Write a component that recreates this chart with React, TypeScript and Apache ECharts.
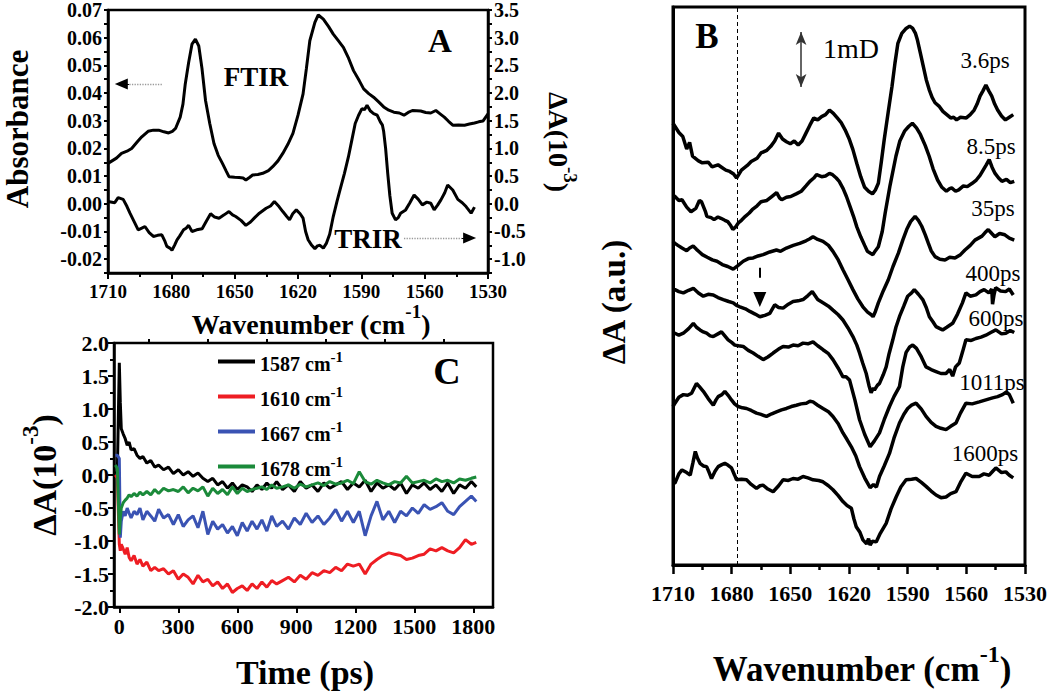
import React, { useEffect, useRef } from 'react';
import * as echarts from 'echarts';

const FONT = "'Liberation Serif', 'Times New Roman', Times, serif";

// ---------------- Panel A: FTIR (left axis, absorbance) and TRIR (right axis, 10^-3) ----------------
const A_FTIR: [number, number][] = [
  [1710, 0.0146], [1706, 0.0165], [1703.6, 0.0182], [1701, 0.019], [1698.8, 0.02], [1696, 0.0225], [1694, 0.0242],
  [1691, 0.0262], [1688.5, 0.0266], [1686, 0.0266], [1683.5, 0.026], [1681.3, 0.0256], [1679.5, 0.0262], [1678, 0.0272],
  [1675.8, 0.0313], [1674.5, 0.036], [1673.4, 0.0433], [1671.8, 0.051], [1670.2, 0.0577], [1668.6, 0.0595], [1667, 0.057],
  [1665.5, 0.049], [1663.8, 0.0373], [1661.8, 0.029], [1659.8, 0.0218], [1657.8, 0.0175], [1655.8, 0.0146], [1654, 0.0118],
  [1652.7, 0.0098], [1650, 0.0096], [1647.9, 0.0095], [1646, 0.0093], [1644.7, 0.0086], [1643, 0.0095], [1641.5, 0.0104],
  [1639, 0.0106], [1636.7, 0.011], [1634, 0.012], [1632, 0.0134], [1629.5, 0.0155], [1627.2, 0.0182], [1624.8, 0.0215],
  [1622.4, 0.0254], [1620, 0.032], [1617.6, 0.0397], [1616, 0.049], [1614.4, 0.0589], [1612, 0.0655], [1610.4, 0.0682],
  [1608, 0.0667], [1605.5, 0.064], [1603.3, 0.0613], [1601, 0.059], [1598.5, 0.0565], [1596, 0.0525], [1593.7, 0.0481],
  [1591, 0.0445], [1588.9, 0.0415], [1586.5, 0.0398], [1584.2, 0.0385], [1581.8, 0.0368], [1579.4, 0.035], [1577, 0.0338],
  [1574.6, 0.0331], [1572, 0.0328], [1569.8, 0.032], [1567.8, 0.033], [1565.8, 0.0337], [1563.8, 0.0336], [1561.9, 0.0335],
  [1559.5, 0.033], [1557.1, 0.0328], [1554.7, 0.0337], [1552.7, 0.0325], [1550.7, 0.0313], [1548.7, 0.0298], [1546.7, 0.0284],
  [1544, 0.0285], [1541.1, 0.0284], [1538.8, 0.0288], [1536.4, 0.0292], [1534.4, 0.0296], [1532.4, 0.0299], [1530, 0.0325],
];

const A_TRIR: [number, number][] = [
  [1710, 0.04], [1706.8, 0.02], [1705.2, 0.11], [1702.8, 0.08], [1701, -0.05], [1699.6, -0.17], [1697.5, -0.33], [1695.7, -0.47],
  [1694, -0.44], [1692.5, -0.41], [1690.5, -0.52], [1688.5, -0.59], [1686.5, -0.57], [1684.5, -0.56], [1683, -0.68], [1682.1, -0.77],
  [1680.7, -0.8], [1679.7, -0.84], [1678.5, -0.75], [1677.3, -0.65], [1676, -0.58], [1674.2, -0.47], [1673, -0.44], [1671.8, -0.39],
  [1670.2, -0.5], [1668, -0.47], [1665.4, -0.45], [1663.5, -0.32], [1661.4, -0.18], [1659.5, -0.24], [1657.4, -0.26], [1655, -0.2],
  [1652.7, -0.14], [1651, -0.2], [1649.5, -0.23], [1647, -0.3], [1644.7, -0.39], [1642.5, -0.33], [1640.5, -0.25], [1638.3, -0.17],
  [1635.1, -0.08], [1633, -0.04], [1631.2, 0.04], [1629, -0.05], [1627.2, -0.14], [1625.5, -0.22], [1624, -0.29], [1622.5, -0.18],
  [1620.8, -0.11], [1619, -0.18], [1617.6, -0.26], [1616.4, -0.5], [1615.2, -0.65], [1613.5, -0.75], [1612, -0.81], [1610.8, -0.76],
  [1609.6, -0.75], [1608, -0.8], [1606.5, -0.71], [1605, -0.55], [1603.3, -0.23], [1601.5, 0.05], [1600.1, 0.25], [1598, 0.55],
  [1596.1, 0.85], [1594.5, 1.15], [1592.9, 1.45], [1591.3, 1.6], [1589.7, 1.72], [1588.5, 1.7], [1587.3, 1.78], [1585.8, 1.68],
  [1584.2, 1.63], [1582.5, 1.6], [1581, 1.48], [1580, 1.42], [1579.4, 1.3], [1578.5, 1.0], [1577.5, 0.55], [1576.5, 0.15],
  [1575.4, -0.17], [1573.8, -0.29], [1572.5, -0.25], [1571.4, -0.17], [1569, -0.11], [1567, 0.02], [1565, 0.16], [1563, 0.08],
  [1561.1, -0.02], [1559, 0.03], [1557.1, 0.01], [1555.5, -0.11], [1553.8, -0.02], [1552.3, 0.07], [1550.5, 0.2], [1549.1, 0.34],
  [1546.7, 0.25], [1544.3, 0.08], [1542.2, 0.02], [1540.4, -0.05], [1538, -0.17], [1536.4, -0.06],
];

const A_LEFT_LABELS = [-0.02, -0.01, 0, 0.01, 0.02, 0.03, 0.04, 0.05, 0.06, 0.07];
const A_RIGHT_LABELS = [-1, -0.5, 0, 0.5, 1, 1.5, 2, 2.5, 3, 3.5];
// annotation arrows (wavenumber, value)
const A_FTIR_ARROW = { from: 1684.5, to: 1706.8, headFrom: 1700, headTo: 1703.7, y: 0.0433 };
const A_TRIR_ARROW = { from: 1569.8, to: 1535.6, headFrom: 1542.5, headTo: 1538.7, y: -0.616 };

// ---------------- Panel C: kinetics ----------------
const C_TIME = [
  -20, -10, 0, 5, 10, 20, 30, 40, 50, 60, 75, 90, 105, 120, 140, 160, 180, 200, 225, 250, 275, 300, 325, 350, 375,
  400, 425, 450, 475, 500, 525, 550, 575, 600, 625, 650, 675, 700, 725, 750, 775, 800, 830, 860, 890, 920, 950, 980,
  1010, 1040, 1070, 1100, 1130, 1160, 1190, 1220, 1250, 1280, 1310, 1340, 1370, 1400, 1430, 1460, 1490, 1520, 1550,
  1580, 1610, 1640, 1670, 1700, 1730, 1760, 1790, 1815,
];
const C_1587 = [
  0.02, 0.05, 1.7, 1.1, 0.7, 0.62, 0.55, 0.45, 0.5, 0.38, 0.4, 0.3, 0.25, 0.28, 0.18, 0.22, 0.12, 0.15, 0.08, 0.12,
  0.02, 0.08, 0.0, 0.05, -0.02, 0.03, -0.05, -0.1, -0.05, -0.15, -0.1, -0.2, -0.12, -0.22, -0.15, -0.18, -0.25, -0.15,
  -0.22, -0.12, -0.2, -0.1, -0.22, -0.15, -0.25, -0.1, -0.2, -0.15, -0.25, -0.12, -0.2, -0.15, -0.1, -0.22, -0.12,
  -0.18, -0.08, -0.25, -0.12, -0.2, -0.15, -0.22, -0.12, -0.28, -0.15, -0.2, -0.12, -0.22, -0.15, -0.25, -0.12, -0.28,
  -0.15, -0.2, -0.1, -0.18,
];
const C_1610 = [
  0.0, -0.05, -1.05, -1.15, -1.05, -1.12, -1.2, -1.1, -1.25, -1.3, -1.22, -1.35, -1.28, -1.38, -1.32, -1.45, -1.4,
  -1.45, -1.42, -1.5, -1.45, -1.58, -1.5, -1.55, -1.65, -1.52, -1.62, -1.58, -1.68, -1.62, -1.72, -1.65, -1.78, -1.72,
  -1.68, -1.75, -1.65, -1.72, -1.62, -1.7, -1.6, -1.65, -1.6, -1.55, -1.62, -1.52, -1.58, -1.48, -1.52, -1.45, -1.48,
  -1.4, -1.45, -1.35, -1.38, -1.35, -1.5, -1.35, -1.28, -1.22, -1.18, -1.2, -1.22, -1.28, -1.26, -1.22, -1.2, -1.12,
  -1.15, -1.1, -1.15, -1.18, -1.1, -0.98, -1.05, -1.02,
];
const C_1667 = [
  0.3, 0.3, 0.25, -0.95, -0.7, -0.55, -0.62, -0.5, -0.58, -0.65, -0.55, -0.6, -0.5, -0.68, -0.55, -0.62, -0.7, -0.52,
  -0.65, -0.6, -0.75, -0.6, -0.78, -0.68, -0.62, -0.8, -0.55, -0.9, -0.7, -0.82, -0.75, -0.88, -0.78, -0.92, -0.72,
  -0.85, -0.7, -0.82, -0.68, -0.85, -0.62, -0.78, -0.7, -0.82, -0.65, -0.75, -0.58, -0.72, -0.62, -0.75, -0.65, -0.52,
  -0.7, -0.55, -0.72, -0.55, -0.92, -0.62, -0.4, -0.68, -0.55, -0.72, -0.55, -0.62, -0.5, -0.58, -0.45, -0.52, -0.48,
  -0.42, -0.55, -0.6, -0.48, -0.4, -0.32, -0.4,
];
const C_1678 = [
  0.15, 0.1, -0.9, -0.65, -0.5, -0.42, -0.38, -0.35, -0.3, -0.33, -0.28, -0.32, -0.26, -0.3, -0.25, -0.3, -0.22, -0.28,
  -0.2, -0.24, -0.22, -0.25, -0.18, -0.27, -0.2, -0.24, -0.18, -0.32, -0.2, -0.28, -0.22, -0.3, -0.18, -0.28, -0.2,
  -0.25, -0.22, -0.2, -0.18, -0.22, -0.15, -0.2, -0.18, -0.15, -0.2, -0.14, -0.18, -0.15, -0.12, -0.16, -0.1, -0.14,
  -0.12, -0.08, -0.13, 0.05, -0.1, -0.14, -0.08, -0.12, -0.15, -0.1, -0.12, -0.02, -0.12, -0.1, -0.08, -0.12, -0.06,
  -0.1, -0.08, -0.12, -0.06, -0.08, -0.05, -0.03,
];
const C_NAMES = ['1587', '1610', '1667', '1678'];
const C_VALUES = [C_1587, C_1610, C_1667, C_1678];
const C_COLORS = ['#000000', '#ee1d23', '#3a53b3', '#1b8a3a'];
const C_X_LABELS = [0, 300, 600, 900, 1200, 1500, 1800];
const C_X_MINOR = [150, 450, 750, 1050, 1350, 1650];

// ---------------- Panel B: time-resolved spectra (mD, stacked) ----------------
const B_3_6PS: [number, number][] = [
  [1710, 6.69], [1707, 6.55], [1705, 6.49], [1703, 6.3], [1701.5, 6.4], [1700, 6.19], [1697, 6.12], [1695, 6.09], [1692, 6.1],
  [1690, 6.03], [1687, 6.06], [1685, 6.02], [1683, 5.98], [1681, 5.96], [1679, 5.92], [1677.5, 5.86], [1675, 5.98], [1672, 6.05],
  [1670, 6.11], [1667, 6.16], [1665, 6.24], [1662, 6.28], [1660, 6.34], [1658, 6.42], [1656, 6.54], [1654, 6.45], [1652, 6.41],
  [1650, 6.38], [1648, 6.42], [1646, 6.36], [1644, 6.42], [1642, 6.54], [1640, 6.66], [1638, 6.77], [1636, 6.74], [1634, 6.79],
  [1632, 6.82], [1630, 6.89], [1628, 6.84], [1626, 6.77], [1624, 6.7], [1622, 6.59], [1620, 6.46], [1618, 6.29], [1616, 6.08],
  [1614, 5.88], [1612, 5.72], [1610, 5.66], [1608, 5.62], [1606.5, 5.68], [1605, 5.78], [1603.5, 6.1], [1602, 6.44], [1600, 6.85],
  [1598, 7.25], [1596.5, 7.6], [1595, 7.9], [1593, 8.05], [1591, 8.12], [1589, 8.16], [1587.5, 8.13], [1586, 8.05], [1585, 7.95],
  [1583.5, 7.75], [1582, 7.55], [1580.5, 7.35], [1579, 7.2], [1577.5, 7.08], [1576, 7.0], [1574, 6.95], [1572, 6.87], [1570, 6.82],
  [1568, 6.77], [1566.5, 6.78], [1565, 6.74], [1563, 6.78], [1560, 6.77], [1558, 6.82], [1556, 6.89], [1554.5, 6.98], [1553, 7.1],
  [1551.5, 7.18], [1550, 7.27], [1548.5, 7.18], [1547, 7.1], [1545.5, 6.98], [1544, 6.89], [1542, 6.8], [1540, 6.74], [1538, 6.78],
  [1536, 6.82],
];
const B_8_5PS: [number, number][] = [
  [1710, 5.6], [1709, 5.58], [1707, 5.52], [1705.4, 5.53], [1703, 5.42], [1700.8, 5.35], [1698.3, 5.4], [1696.5, 5.52],
  [1695.4, 5.5], [1693.5, 5.36], [1692.7, 5.28], [1690.5, 5.26], [1689, 5.23], [1687, 5.27], [1685.5, 5.25], [1683.5, 5.22],
  [1682, 5.2], [1680.5, 5.14], [1679.4, 5.08], [1678, 5.12], [1676.6, 5.18], [1675, 5.22], [1673, 5.28], [1671, 5.33],
  [1669.5, 5.38], [1667, 5.44], [1665, 5.5], [1662, 5.52], [1659.5, 5.58], [1657, 5.64], [1655.5, 5.56], [1654.4, 5.53],
  [1652, 5.57], [1649.8, 5.58], [1647, 5.62], [1644.4, 5.66], [1642, 5.74], [1640, 5.81], [1638, 5.86], [1636.6, 5.91],
  [1634, 5.88], [1632, 5.89], [1630, 5.93], [1628.4, 5.91], [1626.5, 5.86], [1625, 5.81], [1623, 5.7], [1621.3, 5.58],
  [1619.5, 5.43], [1617.7, 5.28], [1616, 5.12], [1614, 4.97], [1612, 4.84], [1610.6, 4.75], [1609, 4.72], [1607.8, 4.7],
  [1606.5, 4.76], [1605, 4.82], [1603, 5.05], [1601.5, 5.33], [1599, 5.75], [1596, 6.19], [1594, 6.42], [1591.6, 6.57],
  [1589.5, 6.64], [1587.6, 6.69], [1585.5, 6.62], [1583.5, 6.52], [1581, 6.35], [1579, 6.19], [1577, 6.0], [1574.7, 5.83],
  [1572.5, 5.72], [1570.2, 5.66], [1568.5, 5.7], [1567.5, 5.71], [1565.5, 5.66], [1563.9, 5.68], [1561.5, 5.74], [1559.5, 5.73],
  [1557, 5.78], [1554.9, 5.83], [1553, 5.9], [1551.4, 5.98], [1549.8, 6.06], [1548.3, 6.14], [1546.8, 6.02], [1545.3, 5.93],
  [1543.5, 5.86], [1541.8, 5.81], [1539.5, 5.84], [1537.5, 5.79], [1535.5, 5.81],
];
const B_35PS: [number, number][] = [
  [1710, 4.9], [1709, 4.87], [1707.5, 4.84], [1705.4, 4.8], [1703, 4.76], [1701.5, 4.8], [1699.7, 4.83], [1698, 4.78],
  [1696.5, 4.74], [1695, 4.7], [1692.5, 4.66], [1689.9, 4.62], [1687.5, 4.6], [1684.8, 4.55], [1682, 4.52], [1679.2, 4.48],
  [1677, 4.53], [1674.1, 4.6], [1671.5, 4.64], [1669, 4.65], [1666.5, 4.68], [1663.9, 4.7], [1660.5, 4.74], [1657.1, 4.77],
  [1655, 4.75], [1652, 4.8], [1648.5, 4.84], [1645.2, 4.87], [1642, 4.91], [1640, 4.94], [1638.4, 4.97], [1636, 4.93],
  [1633.3, 4.9], [1630.5, 4.84], [1628.2, 4.75], [1625.5, 4.62], [1623.1, 4.47], [1620.5, 4.32], [1618, 4.17], [1615.5, 4.03],
  [1612.9, 3.91], [1610.5, 3.83], [1608.6, 3.79], [1607.7, 3.76], [1606.5, 3.84], [1605, 3.97], [1602.5, 4.15], [1599.9, 4.32],
  [1597.5, 4.52], [1594.8, 4.72], [1592.5, 4.92], [1590.5, 5.08], [1588.5, 5.2], [1586.2, 5.28], [1584.5, 5.22], [1582.8, 5.13],
  [1581, 5.0], [1579.4, 4.87], [1578, 4.76], [1576, 4.67], [1573.5, 4.63], [1570.9, 4.62], [1568.5, 4.66], [1565.8, 4.65],
  [1563, 4.7], [1560.7, 4.77], [1558, 4.84], [1555.6, 4.92], [1552, 4.98], [1550.5, 5.03], [1548.8, 5.08], [1547, 5.02],
  [1545.4, 4.97], [1543, 5.02], [1540.3, 5.0], [1538, 4.95], [1535.5, 4.92],
];
const B_400PS: [number, number][] = [
  [1710, 4.17], [1709, 4.17], [1707, 4.14], [1704.7, 4.12], [1702, 4.16], [1699.6, 4.19], [1697, 4.12], [1694.5, 4.07],
  [1692, 4.1], [1689.4, 4.09], [1687, 4.05], [1684.3, 4.02], [1681.5, 3.99], [1679.2, 3.97], [1677.5, 3.93], [1675.8, 3.91],
  [1673, 3.88], [1670.7, 3.84], [1668, 3.8], [1665.6, 3.76], [1663, 3.78], [1660.5, 3.81], [1658, 3.94], [1656, 3.9],
  [1653.7, 3.89], [1651, 3.95], [1648.6, 3.99], [1646, 4.0], [1643.5, 4.02], [1641, 4.08], [1638.8, 4.14], [1636, 4.02],
  [1633.3, 3.97], [1630.5, 3.92], [1628.2, 3.86], [1625.5, 3.79], [1623.1, 3.71], [1620.5, 3.59], [1618, 3.46], [1616, 3.33],
  [1614.6, 3.21], [1613, 3.06], [1611.2, 2.9], [1609.8, 2.72], [1608.7, 2.61], [1607.5, 2.68], [1607, 2.65], [1605.5, 2.72],
  [1604.4, 2.75], [1602.5, 2.88], [1601, 3.0], [1599.5, 3.2], [1597.6, 3.41], [1596, 3.6], [1594.2, 3.76], [1592, 3.92],
  [1590, 4.07], [1588, 4.12], [1586.6, 4.17], [1584.5, 4.1], [1582.3, 4.02], [1580.5, 3.9], [1578.9, 3.76], [1577, 3.68],
  [1575.5, 3.61], [1573.5, 3.58], [1572.1, 3.56], [1570, 3.6], [1567, 3.66], [1564.5, 3.8], [1562, 3.97], [1560.2, 4.12],
  [1558, 4.07], [1555.1, 4.09], [1553, 4.14], [1550.9, 4.17], [1548.5, 4.12], [1547, 4.18], [1546.6, 3.95], [1545.8, 4.1],
  [1545, 4.2], [1542.5, 4.15], [1539.9, 4.14], [1538, 4.18], [1536, 4.09],
];
const B_600PS: [number, number][] = [
  [1710, 3.51], [1709, 3.51], [1707, 3.48], [1704.7, 3.51], [1702, 3.58], [1699.6, 3.66], [1698, 3.6], [1696.2, 3.56],
  [1694.5, 3.53], [1692.8, 3.51], [1691, 3.47], [1689.4, 3.46], [1687, 3.5], [1685.2, 3.53], [1683.5, 3.47], [1681.8, 3.41],
  [1680, 3.37], [1678.4, 3.33], [1676.5, 3.32], [1674.1, 3.31], [1671.5, 3.25], [1669, 3.21], [1666.5, 3.16], [1663.9, 3.11],
  [1661.5, 3.15], [1658.8, 3.21], [1656, 3.27], [1653.7, 3.31], [1651, 3.3], [1648.6, 3.33], [1646, 3.32], [1643.5, 3.36],
  [1641, 3.35], [1638.4, 3.38], [1636, 3.32], [1633.3, 3.26], [1630.5, 3.2], [1628.2, 3.11], [1625.5, 2.98], [1623.1, 2.85],
  [1621.5, 2.85], [1619.7, 2.8], [1617, 2.5], [1614.6, 2.2], [1612, 1.98], [1609.2, 1.79], [1607, 1.88], [1604.4, 2.0],
  [1602, 2.2], [1599.3, 2.4], [1597, 2.55], [1594.2, 2.7], [1592.5, 3.0], [1590.8, 3.22], [1589, 3.3], [1587.4, 3.33],
  [1585.5, 3.28], [1583, 3.15], [1580.6, 3.0], [1578, 2.96], [1575.5, 2.93], [1573, 2.9], [1570.4, 2.9], [1568.5, 2.96],
  [1567, 2.86], [1565.5, 3.0], [1563.6, 3.06], [1562, 3.22], [1560.2, 3.41], [1557.5, 3.4], [1555.1, 3.43], [1552.5, 3.45],
  [1550, 3.48], [1547.5, 3.52], [1544.9, 3.56], [1542, 3.5], [1539.8, 3.51], [1537.5, 3.55], [1535.5, 3.52],
];
const B_1011PS: [number, number][] = [
  [1710, 2.4], [1709, 2.45], [1707, 2.54], [1704.7, 2.58], [1702.5, 2.57], [1700.5, 2.6], [1698, 2.75], [1696.5, 2.7],
  [1694.5, 2.63], [1692, 2.52], [1689.4, 2.42], [1688, 2.5], [1686.9, 2.55], [1685, 2.58], [1683.5, 2.63], [1681.8, 2.57],
  [1680.1, 2.5], [1678.5, 2.44], [1676.7, 2.4], [1674.5, 2.38], [1672.4, 2.37], [1670, 2.34], [1667.3, 2.3], [1665, 2.28],
  [1662.2, 2.25], [1659.5, 2.29], [1657.1, 2.32], [1654.5, 2.35], [1652, 2.37], [1649.5, 2.4], [1646.9, 2.42], [1644.5, 2.44],
  [1641.8, 2.45], [1640, 2.48], [1638.4, 2.47], [1636, 2.42], [1633.3, 2.37], [1630.5, 2.32], [1628.2, 2.25], [1625.5, 2.14],
  [1623.1, 2.0], [1621, 1.9], [1618.8, 1.79], [1616.5, 1.65], [1614.6, 1.49], [1612, 1.32], [1610.5, 1.24], [1609.2, 1.17],
  [1607.5, 1.22], [1606, 1.18], [1604.4, 1.34], [1602, 1.5], [1599.3, 1.69], [1597, 1.92], [1594.2, 2.15], [1592, 2.28],
  [1590, 2.37], [1588, 2.42], [1585.7, 2.45], [1583, 2.36], [1580.6, 2.25], [1578, 2.16], [1575.5, 2.1], [1573, 2.07],
  [1570.4, 2.05], [1568, 2.1], [1565.3, 2.15], [1563, 2.3], [1560.2, 2.45], [1557, 2.44], [1553.4, 2.47], [1550, 2.5],
  [1546.6, 2.53], [1544, 2.55], [1541.5, 2.58], [1539.5, 2.62], [1538, 2.58], [1536, 2.45],
];
const B_1600PS: [number, number][] = [
  [1710, 1.24], [1709, 1.24], [1707, 1.38], [1705.4, 1.44], [1703, 1.4], [1701.2, 1.36], [1699.8, 1.55], [1698.6, 1.72],
  [1697.5, 1.62], [1696.2, 1.54], [1694.5, 1.5], [1692.8, 1.49], [1691.5, 1.4], [1690.3, 1.31], [1688.5, 1.42], [1686.9, 1.49],
  [1685, 1.52], [1683.5, 1.54], [1681.8, 1.51], [1680.1, 1.47], [1678.5, 1.36], [1677.5, 1.29], [1675, 1.3], [1672.4, 1.29],
  [1670, 1.22], [1667.3, 1.16], [1665.5, 1.2], [1664, 1.21], [1661.5, 1.15], [1658.8, 1.11], [1656, 1.2], [1653.7, 1.29],
  [1651, 1.28], [1648.6, 1.31], [1646, 1.3], [1643.5, 1.34], [1641, 1.32], [1638.4, 1.29], [1635.5, 1.28], [1633.3, 1.26],
  [1630.5, 1.2], [1628.2, 1.14], [1625.5, 1.05], [1623.1, 0.96], [1621, 0.9], [1618.8, 0.86], [1617.5, 0.7], [1616.3, 0.58],
  [1614.5, 0.5], [1612.9, 0.38], [1611, 0.32], [1610, 0.4], [1609.2, 0.3], [1608, 0.36], [1606.1, 0.35], [1604, 0.48],
  [1601, 0.63], [1598.5, 0.85], [1595.9, 1.03], [1593.5, 1.18], [1590.8, 1.29], [1588, 1.3], [1585.7, 1.31], [1583, 1.25],
  [1580.6, 1.19], [1578, 1.12], [1575.5, 1.06], [1573, 1.02], [1570.4, 1.03], [1568, 1.08], [1565.3, 1.11], [1563, 1.25],
  [1560.2, 1.39], [1557, 1.34], [1553.4, 1.34], [1551, 1.38], [1548.3, 1.36], [1546.5, 1.42], [1544.9, 1.47], [1542, 1.4],
  [1539.8, 1.41], [1538, 1.36], [1536, 1.32],
];
const B_SPECTRA = [B_3_6PS, B_8_5PS, B_35PS, B_400PS, B_600PS, B_1011PS, B_1600PS];
const B_LABELS = ['3.6ps', '8.5ps', '35ps', '400ps', '600ps', '1011ps', '1600ps'];
const B_DASHED_WN = 1677;
const B_SCALE = { wn: 1644.5, from: 7.24, to: 8.07 }; // 1 mD scale bar
const B_MARK = { wn: 1665.6, from: 4.5, to: 4.02 };

// ---------------- helpers ----------------
const BLACK = '#000';
const lbl = (size: number) => ({ color: BLACK, fontFamily: FONT, fontWeight: 'bold' as const, fontSize: size });
const axisLine = (w: number) => ({ show: true, onZero: false, lineStyle: { color: BLACK, width: w } });
const plain = (v: number) => String(v);

function plainText(text: string, x: number, y: number, size: number, bold: boolean, rotation = 0) {
  return {
    type: 'text', x, y, rotation, silent: true,
    style: {
      text, fontFamily: FONT, fontSize: size, fontWeight: bold ? 'bold' : 'normal', fill: BLACK,
      align: 'center', verticalAlign: 'middle',
    },
  };
}
function supText(base: string, sup: string, after: string, x: number, y: number, size: number, supSize: number, rotation = 0) {
  return {
    type: 'text', x, y, rotation, silent: true,
    style: {
      text: `{a|${base}}{s|${sup}}{a|${after}}`,
      align: 'center', verticalAlign: 'middle',
      rich: {
        a: { fontFamily: FONT, fontWeight: 'bold', fontSize: size, fill: BLACK, verticalAlign: 'bottom' },
        s: {
          fontFamily: FONT, fontWeight: 'bold', fontSize: supSize, fill: BLACK, verticalAlign: 'bottom',
          padding: [0, 0, Math.round(size * 0.6), 0],
        },
      },
    },
  };
}

const B_LABEL_POS: [number, number][] = [[985, 60], [991, 146], [993, 208], [993, 273], [996, 318], [992, 382], [985, 453]];

function buildOption() {
  const series: any[] = [];

  // Panel A
  series.push({
    name: 'FTIR', type: 'line', xAxisIndex: 0, yAxisIndex: 0, data: A_FTIR, symbol: 'none',
    lineStyle: { color: BLACK, width: 3 }, itemStyle: { color: BLACK },
    markLine: {
      silent: true, symbol: ['none', 'none'], label: { show: false },
      lineStyle: { color: '#9a9a9a', type: 'dotted', width: 1.3 },
      data: [
        [{ coord: [A_FTIR_ARROW.from, A_FTIR_ARROW.y] }, { coord: [A_FTIR_ARROW.headFrom, A_FTIR_ARROW.y] }],
        [{ coord: [A_TRIR_ARROW.from, A_TRIR_ARROW.y / 50] }, { coord: [A_TRIR_ARROW.headFrom, A_TRIR_ARROW.y / 50] }],
      ],
    },
  });
  series.push({
    name: 'TRIR', type: 'line', xAxisIndex: 0, yAxisIndex: 1, data: A_TRIR, symbol: 'none',
    lineStyle: { color: BLACK, width: 3 }, itemStyle: { color: BLACK },
    markLine: {
      silent: true, symbol: ['none', 'triangle'], symbolSize: [11, 13], label: { show: false },
      lineStyle: { color: BLACK, type: 'solid', width: 1 },
      data: [
        [{ coord: [A_FTIR_ARROW.headFrom, A_FTIR_ARROW.y * 50] }, { coord: [A_FTIR_ARROW.headTo, A_FTIR_ARROW.y * 50] }],
        [{ coord: [A_TRIR_ARROW.headFrom, A_TRIR_ARROW.y] }, { coord: [A_TRIR_ARROW.headTo, A_TRIR_ARROW.y] }],
      ],
    },
  });

  // Panel C
  C_NAMES.forEach((name, k) => {
    series.push({
      name, type: 'line', xAxisIndex: 1, yAxisIndex: 2, symbol: 'none',
      data: C_TIME.map((t, i) => [t, C_VALUES[k][i]]),
      lineStyle: { color: C_COLORS[k], width: 3 }, itemStyle: { color: C_COLORS[k] },
    });
  });

  // Panel B
  B_SPECTRA.forEach((spec, k) => {
    const s: any = {
      name: 'B' + B_LABELS[k], type: 'line', xAxisIndex: 3, yAxisIndex: 3, symbol: 'none', data: spec,
      lineStyle: { color: BLACK, width: 3.5 }, itemStyle: { color: BLACK },
    };
    if (k === 0) {
      s.markLine = {
        silent: true, symbol: ['none', 'none'], label: { show: false },
        lineStyle: { color: BLACK, type: [4, 3], width: 1 },
        data: [{ xAxis: B_DASHED_WN }],
      };
    } else if (k === 1) {
      s.markLine = {
        silent: true, symbol: ['arrow', 'arrow'], symbolSize: [8, 13], label: { show: false },
        lineStyle: { color: '#333', type: 'solid', width: 1.5 },
        data: [[{ coord: [B_SCALE.wn, B_SCALE.from] }, { coord: [B_SCALE.wn, B_SCALE.to] }]],
      };
    } else if (k === 2) {
      s.markLine = {
        silent: true, symbol: ['none', 'triangle'], symbolSize: [13, 15], label: { show: false },
        lineStyle: { color: BLACK, type: [10, 40], width: 2 },
        data: [[{ coord: [B_MARK.wn, B_MARK.from] }, { coord: [B_MARK.wn, B_MARK.to] }]],
      };
    }
    series.push(s);
  });

  const graphic: any[] = [
    plainText('A', 440, 41, 33, true),
    plainText('FTIR', 256, 77, 27, true),
    plainText('TRIR', 368, 239, 27, true),
    plainText('C', 447, 371, 38, true),
    plainText('B', 707, 36, 35, true),
    plainText('1mD', 851, 48, 28, false),
    plainText('Absorbance', 17, 129, 31, true, Math.PI / 2),
    supText('Wavenumber (cm', '-1', ')', 311, 320, 28, 19),
    supText('ΔA(10', '-3', ')', 562, 142, 28, 19, -Math.PI / 2),
    supText('ΔA(10', '-3', ')', 40, 475, 34, 23, Math.PI / 2),
    plainText('Time (ps)', 305, 672, 34, true),
    plainText('ΔA (a.u.)', 614, 302, 33, true, Math.PI / 2),
    supText('Wavenumber (cm', '-1', ')', 862, 664, 35, 24),
    ...B_LABELS.map((t, i) => plainText(t, B_LABEL_POS[i][0], B_LABEL_POS[i][1], 23, false)),
  ];

  return {
    animation: false,
    backgroundColor: '#ffffff',
    textStyle: { fontFamily: FONT },
    grid: [
      { left: 108, top: 9, width: 380, height: 264, show: true, borderColor: BLACK, borderWidth: 2.5, backgroundColor: 'transparent' },
      { left: 114, top: 343, width: 379, height: 264, show: true, borderColor: BLACK, borderWidth: 2.5, backgroundColor: 'transparent' },
      { left: 673, top: 7, width: 353, height: 558, show: true, borderColor: BLACK, borderWidth: 3, backgroundColor: 'transparent' },
    ],
    xAxis: [
      {
        gridIndex: 0, type: 'value', min: 1530, max: 1710, interval: 30, inverse: true,
        axisLine: axisLine(2.5),
        axisTick: { show: true, length: 6, lineStyle: { color: BLACK, width: 2 } },
        minorTick: { show: true, splitNumber: 2, length: 4, lineStyle: { color: BLACK, width: 2 } },
        axisLabel: { ...lbl(19), margin: 9, formatter: plain },
        splitLine: { show: false }, minorSplitLine: { show: false },
      },
      {
        gridIndex: 1, type: 'value', min: -27, max: 1900,
        axisLine: axisLine(2.5),
        axisTick: { show: true, length: 6, customValues: C_X_LABELS, lineStyle: { color: BLACK, width: 2 } },
        axisLabel: { ...lbl(22), margin: 8, customValues: C_X_LABELS, formatter: plain },
        splitLine: { show: false },
      },
      {
        gridIndex: 1, type: 'value', min: -27, max: 1900,
        axisLine: { show: false, onZero: false },
        axisTick: { show: true, length: 4, customValues: C_X_MINOR, lineStyle: { color: BLACK, width: 2 } },
        axisLabel: { show: false },
        splitLine: { show: false },
      },
      {
        gridIndex: 2, type: 'value', min: 1530, max: 1710, interval: 30, inverse: true,
        axisLine: axisLine(3),
        axisTick: { show: true, length: 9, lineStyle: { color: BLACK, width: 2.5 } },
        minorTick: { show: true, splitNumber: 2, length: 5, lineStyle: { color: BLACK, width: 2.5 } },
        axisLabel: { ...lbl(22), margin: 17, formatter: plain },
        splitLine: { show: false }, minorSplitLine: { show: false },
      },
    ],
    yAxis: [
      {
        gridIndex: 0, type: 'value', min: -0.025, max: 0.07, interval: 0.005,
        axisLine: axisLine(2.5),
        axisTick: { show: true, length: 4, lineStyle: { color: BLACK, width: 2 } },
        axisLabel: { ...lbl(20), margin: 6, customValues: A_LEFT_LABELS, formatter: (v: number) => v.toFixed(2) },
        splitLine: { show: false },
      },
      {
        gridIndex: 0, type: 'value', position: 'right', min: -1.25, max: 3.5, interval: 0.25,
        axisLine: axisLine(2.5),
        axisTick: { show: true, length: 4, lineStyle: { color: BLACK, width: 2 } },
        axisLabel: { ...lbl(20), margin: 6, customValues: A_RIGHT_LABELS, formatter: (v: number) => v.toFixed(1) },
        splitLine: { show: false },
      },
      {
        gridIndex: 1, type: 'value', min: -2, max: 2, interval: 0.5,
        axisLine: axisLine(2.5),
        axisTick: { show: true, length: 6, lineStyle: { color: BLACK, width: 2 } },
        minorTick: { show: true, splitNumber: 2, length: 4, lineStyle: { color: BLACK, width: 2 } },
        axisLabel: { ...lbl(22), margin: 5, formatter: (v: number) => v.toFixed(1) },
        splitLine: { show: false }, minorSplitLine: { show: false },
      },
      {
        gridIndex: 2, type: 'value', min: 0, max: 8.45,
        axisLine: axisLine(3),
        axisTick: { show: false }, axisLabel: { show: false }, splitLine: { show: false },
      },
    ],
    legend: {
      data: C_NAMES, orient: 'vertical', left: 213, top: 344, itemWidth: 37, itemHeight: 4, itemGap: 10,
      icon: 'rect',
      itemStyle: { borderWidth: 0 },
      formatter: (name: string) => `{a|${name} cm}{s|-1}`,
      textStyle: {
        rich: {
          a: { fontFamily: FONT, fontWeight: 'bold', fontSize: 20, color: BLACK, verticalAlign: 'bottom' },
          s: { fontFamily: FONT, fontWeight: 'bold', fontSize: 15, color: BLACK, verticalAlign: 'bottom', padding: [0, 0, 10, 0] },
        },
      },
      selectedMode: false,
    },
    series,
    graphic,
  };
}

export default function App() {
  const ref = useRef<HTMLDivElement>(null);
  useEffect(() => {
    if (!ref.current) return;
    const chart = echarts.init(ref.current, null, { renderer: 'svg' });
    chart.setOption(buildOption() as any);
    return () => chart.dispose();
  }, []);
  return (
    <div
      ref={ref}
      style={{ position: 'fixed', left: 0, top: 0, width: 1050, height: 691, background: '#fff' }}
    />
  );
}
